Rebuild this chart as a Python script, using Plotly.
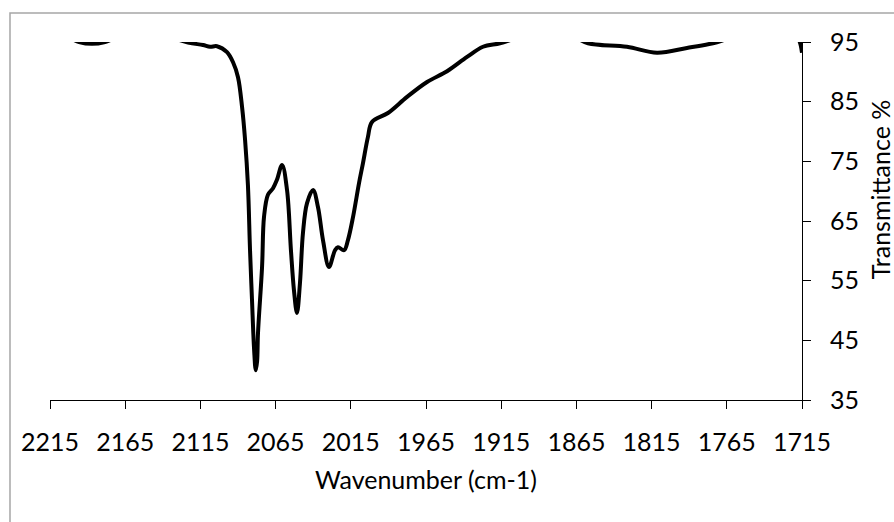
import plotly.graph_objects as go

# IR spectrum in the carbonyl region (values above 95 % run off the top of the axis)
wavenumber = [
    2215, 2205, 2195.7, 2187.1, 2178.4, 2165, 2145, 2123.2, 2113.3, 2108.6,
    2104.0, 2097.3, 2093.3, 2090.0, 2087.3, 2085.3, 2083.4, 2082.0, 2080.7,
    2079.3, 2078.2, 2077.3, 2076.7, 2074.0, 2072.7, 2070.1, 2066.7, 2064.1,
    2060.7, 2057.4, 2054.8, 2052.8, 2050.8, 2048.8, 2046.8, 2044.1, 2040.1,
    2036.8, 2033.5, 2029.5, 2025.5, 2023.5, 2019.5, 2016.9, 2013.5, 2009.5,
    2006.9, 2003.6, 2000.9, 1990.3, 1977.6, 1964.3, 1951.0, 1937.7, 1927.1,
    1915.8, 1902.5, 1885, 1868, 1857.3, 1831.4, 1811.4, 1791.5, 1774.2,
    1760, 1740, 1722, 1717.5, 1715,
]
transmittance = [
    96.5, 96.0, 95.0, 94.7, 95.0, 96.3, 96.5, 94.9, 94.5, 94.2,
    94.3, 93.3, 91.6, 89.1, 84.1, 78.6, 71.0, 60.1, 51.8,
    43.5, 40.0, 41.5, 46.2, 57.3, 65.7, 69.4, 70.5, 71.9,
    74.4, 70.2, 60.1, 53.4, 49.6, 54.6, 63.0, 68.0, 70.2,
    67.3, 61.8, 57.3, 60.1, 60.6, 60.1, 61.8, 65.7, 71.4,
    74.7, 79.1, 81.6, 83.1, 85.8, 88.3, 90.1, 92.5, 94.2,
    94.8, 95.8, 96.5, 96.0, 94.8, 94.2, 93.2, 94.0, 94.8,
    95.8, 96.2, 96.0, 95.5, 93.2,
]

x_ticks = [2215, 2165, 2115, 2065, 2015, 1965, 1915, 1865, 1815, 1765, 1715]
y_ticks = [35, 45, 55, 65, 75, 85, 95]

FONT = "Lato"
SIZE = 25

fig = go.Figure()
fig.add_trace(go.Scatter(
    x=wavenumber,
    y=transmittance,
    mode="lines",
    line=dict(color="black", width=4, shape="spline", smoothing=1.0),
    hoverinfo="x+y",
    showlegend=False,
))

fig.update_layout(
    width=894,
    height=522,
    margin=dict(l=50, r=92, t=42, b=122),
    paper_bgcolor="white",
    plot_bgcolor="white",
    font=dict(family=FONT, size=SIZE, color="black"),
    xaxis=dict(
        range=[2215, 1715],
        tickvals=x_ticks,
        ticktext=[str(v) for v in x_ticks],
        ticks="outside",
        ticklen=8,
        tickwidth=1,
        tickcolor="black",
        showline=True,
        linecolor="black",
        linewidth=1,
        showgrid=False,
        zeroline=False,
        ticklabelstandoff=12,
    ),
    yaxis=dict(
        range=[35, 95],
        side="right",
        tickvals=y_ticks,
        ticktext=[str(v) for v in y_ticks],
        ticks="outside",
        ticklen=8,
        tickwidth=1,
        tickcolor="black",
        showline=True,
        linecolor="black",
        linewidth=1,
        showgrid=False,
        zeroline=False,
        ticklabelstandoff=14,
    ),
    shapes=[
        # outer chart border
        dict(
            type="rect", xref="paper", yref="paper",
            x0=-0.0532, x1=1.3, y0=-0.6, y1=1.081,
            line=dict(color="#a6a6a6", width=1.5),
            fillcolor="rgba(0,0,0,0)",
            layer="below",
        ),
    ],
    annotations=[
        dict(
            text="Wavenumber (cm-1)", xref="paper", yref="paper",
            x=0.5, y=-0.222, xanchor="center", yanchor="middle",
            showarrow=False, font=dict(family=FONT, size=SIZE),
        ),
        dict(
            text="Transmittance %", xref="paper", yref="paper",
            x=1.104, y=0.5866, xanchor="center", yanchor="middle",
            textangle=-90, showarrow=False, font=dict(family=FONT, size=SIZE),
        ),
    ],
)

fig.write_html("out.html")
